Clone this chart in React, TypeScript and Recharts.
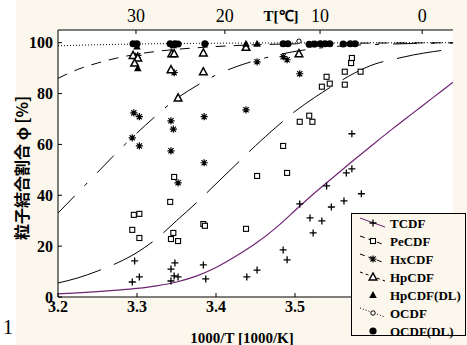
import React from "react";
import { ComposedChart, Line, Scatter, XAxis, YAxis, CartesianGrid } from "recharts";

// fitted curves at a fixed 1000/T grid
const curveX = [3.2, 3.225, 3.25, 3.275, 3.3, 3.325, 3.35, 3.375, 3.4, 3.425, 3.45, 3.475, 3.5, 3.525, 3.55, 3.575, 3.6, 3.625, 3.65, 3.675, 3.7];
const tcdfCurve = [1.2, 1.6, 2.1, 2.7, 3.4, 4.4, 5.9, 8.2, 11.6, 16, 21, 27, 34, 41, 47.5, 54, 60.3, 66.5, 72.5, 78.5, 84.5];
const pecdfCurve = [5.5, 7.5, 10.2, 13.4, 17.5, 23, 30, 37, 44.5, 52, 59.5, 66.5, 73, 78.5, 83.5, 88, 91.5, 93.5, 95.2, 96.5, 97.5];
const hxcdfCurve = [33, 41, 49, 57, 64.5, 71.5, 78, 83, 87.3, 90.5, 93, 95, 96.6, 97.7, 98.5, 99, 99.3, 99.5, 99.7, 99.8, 99.9];
const hpcdfCurve = [86, 89.5, 92, 94, 95.5, 96.6, 97.4, 98, 98.5, 98.9, 99.2, 99.4, 99.55, 99.65, 99.75, 99.8, 99.85, 99.9, 99.92, 99.95, 99.97];
const ocdfCurve = [98.8, 99.0, 99.2, 99.35, 99.5, 99.6, 99.7, 99.75, 99.8, 99.85, 99.88, 99.9, 99.92, 99.94, 99.95, 99.96, 99.97, 99.98, 99.99, 100, 100];

// measured points [1000/T, %]
const tcdfPts: [number, number][] = [
  [3.297, 14.2], [3.303, 7.9], [3.294, 5.9], [3.348, 13.4], [3.343, 11], [3.347, 8.3], [3.352, 7.9],
  [3.343, 6.3], [3.384, 12.6], [3.387, 7.1], [3.439, 7.9], [3.452, 10.6], [3.485, 18.5], [3.49, 14.6],
  [3.506, 36.6], [3.519, 31.1], [3.523, 25.2], [3.534, 29.9], [3.54, 43.7], [3.546, 35.4], [3.562, 37.8],
  [3.565, 48.8], [3.572, 50.4], [3.584, 40.6], [3.572, 64.2],
];
const pecdfPts: [number, number][] = [
  [3.296, 32.3], [3.303, 32.7], [3.294, 26.4], [3.303, 23.2], [3.347, 47.2], [3.342, 37.4], [3.346, 25.2],
  [3.343, 22.8], [3.352, 22], [3.384, 28.7], [3.386, 28], [3.438, 26.8], [3.452, 47.6], [3.49, 48.8],
  [3.485, 59.4], [3.506, 68.9], [3.518, 71.3], [3.522, 68.9], [3.534, 82.7], [3.54, 86.6], [3.544, 83.9],
  [3.563, 88.6], [3.563, 83.5], [3.571, 92], [3.572, 94], [3.583, 88.6],
];
const hxcdfPts: [number, number][] = [
  [3.296, 72.4], [3.303, 70.9], [3.294, 62.6], [3.303, 59.4], [3.343, 69.3], [3.346, 66], [3.343, 57.5],
  [3.347, 88.2], [3.352, 44.9], [3.385, 70.9], [3.385, 52.8], [3.438, 73.6], [3.452, 92.5], [3.485, 94.5],
  [3.49, 93.3], [3.506, 87.8], [3.301, 95],
];
const hpcdfPts: [number, number][] = [
  [3.295, 95], [3.301, 94], [3.297, 92], [3.344, 95.7], [3.347, 95.7], [3.343, 89.4], [3.384, 96],
  [3.384, 88.6], [3.352, 78.3], [3.438, 98.2], [3.505, 95.7],
];
const hpcdfDlPts: [number, number][] = [
  [3.301, 90], [3.3, 98.5], [3.346, 99], [3.438, 99.6], [3.452, 99.6], [3.522, 99.4],
];
const ocdfPts: [number, number][] = [[3.505, 100.6]];
const ocdfDlPts: [number, number][] = [
  [3.295, 99.6], [3.3, 99.6], [3.342, 99.6], [3.348, 99.6], [3.352, 99.5], [3.386, 99.6], [3.485, 99.6],
  [3.491, 99.6], [3.518, 99.4], [3.525, 99.5], [3.532, 99.6], [3.538, 99.6], [3.544, 99.6], [3.561, 99.5],
  [3.57, 99.6], [3.576, 99.6],
];

const xTicks = [3.2, 3.3, 3.4, 3.5, 3.6, 3.7];
const xLabelled = [3.2, 3.3, 3.4, 3.5]; // 3.6 and 3.7 sit under the legend
const yTicks = [0, 20, 40, 60, 80, 100];
const tempTicks = [30, 20, 10, 0];

const CREAM = "#fcf7ec";
const PURPLE = "#6e2272";
const SERIF = "'Liberation Serif', 'Times New Roman', serif";

const curve = (ys: number[]) => curveX.map((x, i) => ({ x, y: ys[i] }));
const pts = (p: [number, number][]) => p.map(([x, y]) => ({ x, y }));

function CrossDot({ cx, cy }: any) {
  return <path d={`M${cx - 3.5},${cy}H${cx + 3.5}M${cx},${cy - 3.5}V${cy + 3.5}`} stroke="#000" strokeWidth={1.3} />;
}
function SquareDot({ cx, cy }: any) {
  return <rect x={cx - 2.5} y={cy - 2.5} width={5} height={5} fill="#fff" stroke="#000" strokeWidth={1.1} />;
}
function StarDot({ cx, cy }: any) {
  const r = 3.6, d = 2.6;
  return (
    <path
      d={`M${cx - r},${cy}H${cx + r}M${cx},${cy - r}V${cy + r}M${cx - d},${cy - d}L${cx + d},${cy + d}M${cx - d},${cy + d}L${cx + d},${cy - d}`}
      stroke="#000"
      strokeWidth={1.2}
    />
  );
}
function TriOpen({ cx, cy }: any) {
  return <polygon points={`${cx},${cy - 4} ${cx - 3.8},${cy + 3} ${cx + 3.8},${cy + 3}`} fill="#fff" stroke="#000" strokeWidth={1.5} />;
}
function TriFill({ cx, cy }: any) {
  return <polygon points={`${cx},${cy - 4} ${cx - 3.8},${cy + 3} ${cx + 3.8},${cy + 3}`} fill="#000" />;
}
function CircOpen({ cx, cy }: any) {
  return <circle cx={cx} cy={cy} r={2.2} fill="#fff" stroke="#000" strokeWidth={1} />;
}
function CircFill({ cx, cy }: any) {
  return <circle cx={cx} cy={cy} r={3.6} fill="#000" />;
}

const legendRows = [
  { name: "TCDF", stroke: PURPLE, dash: undefined, Mark: CrossDot },
  { name: "PeCDF", stroke: "#000", dash: "5 4", Mark: SquareDot },
  { name: "HxCDF", stroke: "#000", dash: "5 4", Mark: StarDot },
  { name: "HpCDF", stroke: "#000", dash: "3 3", Mark: TriOpen },
  { name: "HpCDF(DL)", stroke: "none", dash: undefined, Mark: TriFill },
  { name: "OCDF", stroke: "#000", dash: "1 2", Mark: CircOpen },
  { name: "OCDF(DL)", stroke: "none", dash: undefined, Mark: CircFill },
];

function LegendBox() {
  return (
    <div
      style={{
        position: "absolute", left: 351, top: 213, width: 115, height: 123,
        border: "1px solid #000", background: CREAM, boxSizing: "border-box",
      }}
    >
      <svg width={113} height={121} style={{ overflow: "visible" }}>
        {legendRows.map((r, i) => {
          const cy = 9 + i * 18;
          return (
            <g key={r.name}>
              {r.stroke !== "none" && (
                <line x1={8} y1={cy - 5} x2={33} y2={cy + 4} stroke={r.stroke} strokeDasharray={r.dash} strokeWidth={1} />
              )}
              <r.Mark cx={21} cy={cy} />
              <text x={38} y={cy + 4.5} fontFamily={SERIF} fontWeight="bold" fontSize={13} fill="#000">
                {r.name}
              </text>
            </g>
          );
        })}
      </svg>
    </div>
  );
}

const tickFont = { fill: "#000", fontSize: 16, fontWeight: "bold", fontFamily: SERIF };

export default function App() {
  return (
    <div style={{ position: "absolute", left: 0, top: 0, width: 467, height: 345, background: CREAM, overflow: "hidden" }}>
      <div style={{ position: "absolute", left: 0, top: 0, width: 16, height: 345, background: "#fff" }} />
      <ComposedChart width={467} height={345} margin={{ top: 10, right: 14, bottom: 18, left: 18 }}>
        <CartesianGrid xAxisId="bottom" yAxisId="left" fill="#fff" horizontal={false} vertical={false} />
        <XAxis
          xAxisId="bottom" dataKey="x" type="number" domain={[3.2, 3.7]} ticks={xTicks} allowDataOverflow
          height={30} stroke="#000" tickSize={-4} tickMargin={8} tick={tickFont}
          tickFormatter={(v: number) => (xLabelled.includes(v) ? v.toFixed(1) : "")}
        />
        <XAxis
          xAxisId="top" orientation="top" dataKey="x" type="number" domain={[3.2, 3.7]} allowDataOverflow
          ticks={tempTicks.map((t) => 1000 / (t + 273.15))} height={20} stroke="#000" tickSize={-4} tickMargin={12}
          tick={{ fill: "#000", fontSize: 18, fontFamily: SERIF }}
          tickFormatter={(v: number) => String(Math.round(1000 / v - 273.15))}
        />
        <YAxis
          yAxisId="left" dataKey="y" type="number" domain={[0, 105]} ticks={yTicks} allowDataOverflow
          width={40} stroke="#000" tickSize={-4} tickMargin={9} tick={tickFont}
        />
        <YAxis
          yAxisId="right" orientation="right" dataKey="y" type="number" domain={[0, 105]} ticks={yTicks} allowDataOverflow
          width={0} stroke="#000" tickSize={-4} tick={false}
        />
        <Line xAxisId="bottom" yAxisId="left" data={curve(ocdfCurve)} dataKey="y" type="monotone" stroke="#000" strokeWidth={1} strokeDasharray="1 2" dot={false} isAnimationActive={false} />
        <Line xAxisId="bottom" yAxisId="left" data={curve(hpcdfCurve)} dataKey="y" type="monotone" stroke="#000" strokeWidth={1} strokeDasharray="10 8" dot={false} isAnimationActive={false} />
        <Line xAxisId="bottom" yAxisId="left" data={curve(hxcdfCurve)} dataKey="y" type="monotone" stroke="#000" strokeWidth={1} strokeDasharray="24 14 4 14" dot={false} isAnimationActive={false} />
        <Line xAxisId="bottom" yAxisId="left" data={curve(pecdfCurve)} dataKey="y" type="monotone" stroke="#000" strokeWidth={1} strokeDasharray="45 14" dot={false} isAnimationActive={false} />
        <Line xAxisId="bottom" yAxisId="left" data={curve(tcdfCurve)} dataKey="y" type="monotone" stroke={PURPLE} strokeWidth={1.2} dot={false} isAnimationActive={false} />
        <Scatter xAxisId="bottom" yAxisId="left" data={pts(tcdfPts)} shape={CrossDot} isAnimationActive={false} />
        <Scatter xAxisId="bottom" yAxisId="left" data={pts(pecdfPts)} shape={SquareDot} isAnimationActive={false} />
        <Scatter xAxisId="bottom" yAxisId="left" data={pts(hxcdfPts)} shape={StarDot} isAnimationActive={false} />
        <Scatter xAxisId="bottom" yAxisId="left" data={pts(hpcdfPts)} shape={TriOpen} isAnimationActive={false} />
        <Scatter xAxisId="bottom" yAxisId="left" data={pts(hpcdfDlPts)} shape={TriFill} isAnimationActive={false} />
        <Scatter xAxisId="bottom" yAxisId="left" data={pts(ocdfPts)} shape={CircOpen} isAnimationActive={false} />
        <Scatter xAxisId="bottom" yAxisId="left" data={pts(ocdfDlPts)} shape={CircFill} isAnimationActive={false} />
      </ComposedChart>
      <svg width={467} height={345} style={{ position: "absolute", left: 0, top: 0, pointerEvents: "none" }}>
        <text x={281} y={21} textAnchor="middle" fontFamily={SERIF} fontWeight="bold" fontSize={15} fill="#000">T[℃]</text>
        <text x={242} y={343} textAnchor="middle" fontFamily={SERIF} fontWeight="bold" fontSize={15} fill="#000">1000/T [1000/K]</text>
        <text
          x={21} y={168} textAnchor="middle" dominantBaseline="central" transform="rotate(-90 21 168)"
          fontFamily="'Noto Sans CJK JP', sans-serif" fontWeight="bold" fontSize={16} fill="#000"
        >
          粒子結合割合 φ [%]
        </text>
        <text x={3} y={334} fontFamily={SERIF} fontSize={20} fill="#000">1</text>
      </svg>
      <LegendBox />
    </div>
  );
}
